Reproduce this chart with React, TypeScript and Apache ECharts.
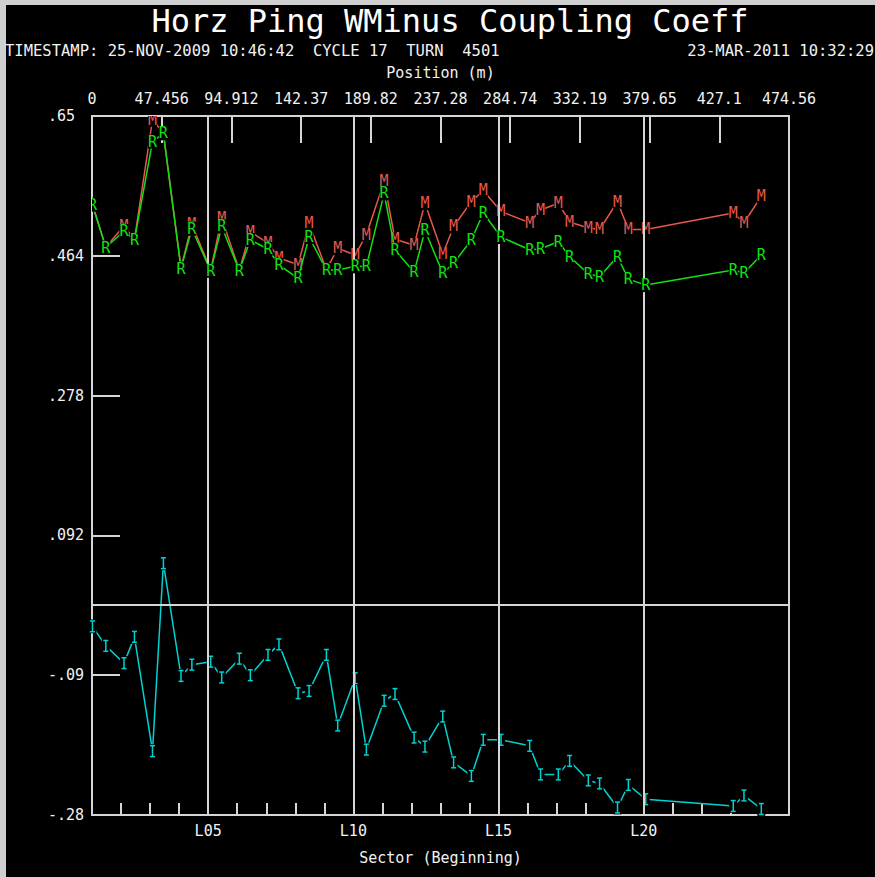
import React, { useEffect, useRef } from "react";
import * as echarts from "echarts";

// Ring geometry and axis labelling
const RING_LENGTH = 474.56;
const SECTOR_COUNT = 24;
const SECTOR_W = RING_LENGTH / SECTOR_COUNT;
const SECTOR_LABELS = ["L05", "L10", "L15", "L20"];
const SECTOR_LABEL_NUMBER = [5, 10, 15, 20];
const POSITION_TICK_LABELS = ["0", "47.456", "94.912", "142.37", "189.82", "237.28", "284.74", "332.19", "379.65", "427.1", "474.56"];
const Y_TICK_VALUES = [-0.28, -0.094, 0.092, 0.278, 0.464, 0.65];
const Y_TICK_LABELS = ["-.28", "-.09", ".092", ".278", ".464", ".65"];

// BPM positions along the ring (m)
const BPM_POSITION = [
  0.3, 9.4, 21.8, 28.9, 41.2, 48.6, 60.6, 68.0, 80.8, 88.3,
  100.3, 107.8, 119.8, 127.3, 140.3, 147.8, 159.6, 167.3, 179.2, 186.8,
  198.9, 206.3, 219.3, 226.7, 238.8, 246.2, 258.3, 266.4, 278.5, 298.0,
  305.4, 317.5, 325.2, 337.9, 345.6, 357.8, 365.2, 377.0, 436.6, 443.9,
  455.7,
];

// Measured coupling (M)
const COUPLING_M = [
  0.5325, 0.4755, 0.504, 0.4855, 0.645, 0.6275, 0.4479, 0.506, 0.4447, 0.514,
  0.4447, 0.496, 0.481, 0.461, 0.452, 0.507, 0.4455, 0.474, 0.465, 0.492,
  0.563, 0.486, 0.478, 0.534, 0.466, 0.503, 0.536, 0.551, 0.523, 0.508,
  0.525, 0.534, 0.509, 0.501, 0.499, 0.536, 0.499, 0.499, 0.521, 0.508,
  0.543,
];

// Reference coupling (R)
const COUPLING_R = [
  0.532, 0.475, 0.497, 0.485, 0.616, 0.627, 0.447, 0.500, 0.444, 0.503,
  0.444, 0.485, 0.473, 0.452, 0.434, 0.489, 0.445, 0.445, 0.450, 0.450,
  0.547, 0.472, 0.442, 0.498, 0.441, 0.454, 0.485, 0.521, 0.489, 0.472,
  0.473, 0.483, 0.463, 0.440, 0.436, 0.463, 0.433, 0.425, 0.445, 0.441,
  0.465,
];

// Difference with its error bar
const COUPLING_DIFF = [
  -0.029, -0.055, -0.078, -0.043, -0.195, 0.055, -0.095, -0.080, -0.076, -0.097,
  -0.072, -0.094, -0.067, -0.053, -0.118, -0.115, -0.067, -0.161, -0.098, -0.193,
  -0.128, -0.119, -0.177, -0.189, -0.149, -0.210, -0.228, -0.180, -0.180, -0.188,
  -0.226, -0.226, -0.208, -0.234, -0.238, -0.270, -0.240, -0.259, -0.268, -0.254,
  -0.272,
];
const DIFF_ERROR = 0.0072;

const RED = "#e8574c";
const GREEN = "#12e012";
const CYAN = "#00d2d2";
const FRAME = "#d6d6d6";
const TEXT = "#f2f2f2";
const MONO = '"DejaVu Sans Mono", "Liberation Mono", monospace';

const nearestIndex = (arr: number[], v: number) => {
  let best = 0;
  for (let i = 1; i < arr.length; i++) if (Math.abs(arr[i] - v) < Math.abs(arr[best] - v)) best = i;
  return best;
};

const pairs = (ys: number[]) => BPM_POSITION.map((x, i) => [x, ys[i]]);

// Letter marks with a black cell behind them; a mark that sits fully under
// the mark of the series drawn above it is left out.
const glyphSeries = (name: string, ys: number[], letter: string, color: string, z: number, above?: number[]) => ({
  type: "custom",
  name,
  z,
  clip: true,
  silent: true,
  encode: { x: 0, y: 1 },
  data: pairs(ys),
  renderItem: (params: any, api: any) => {
    const p = api.coord([api.value(0), api.value(1)]);
    if (above) {
      const q = api.coord([api.value(0), above[params.dataIndex]]);
      if (Math.abs(q[1] - p[1]) < 2) return null;
    }
    return {
      type: "group",
      children: [
        { type: "rect", shape: { x: p[0] - 4.5, y: p[1] - 7, width: 9, height: 14 }, style: { fill: "#000" } },
        {
          type: "text",
          x: p[0],
          y: p[1],
          style: { text: letter, fill: color, font: `15px ${MONO}`, align: "center", verticalAlign: "middle" },
        },
      ],
    };
  },
});

export default function App() {
  const ref = useRef<HTMLDivElement>(null);

  useEffect(() => {
    document.body.style.margin = "0";
    document.body.style.background = "#000";
    if (!ref.current) return;
    const chart = echarts.init(ref.current, undefined, { renderer: "svg" });

    const sectorTicks: number[] = [];
    for (let k = 1; k < SECTOR_COUNT; k++) sectorTicks.push(k * SECTOR_W);
    const sectorLabelValues = SECTOR_LABEL_NUMBER.map((n) => (n - 1) * SECTOR_W);
    const positionValues = POSITION_TICK_LABELS.map(Number);

    chart.setOption({
      animation: false,
      backgroundColor: "#000",
      grid: { left: 92, top: 116, width: 697, height: 699, containLabel: false },
      xAxis: [
        {
          type: "value",
          position: "bottom",
          min: 0,
          max: RING_LENGTH,
          axisLine: { show: true, onZero: false, lineStyle: { color: FRAME, width: 2 } },
          axisTick: { show: true, inside: true, length: 12, customValues: sectorTicks, lineStyle: { color: FRAME, width: 2 } },
          axisLabel: {
            show: true,
            customValues: sectorLabelValues,
            margin: 8,
            color: TEXT,
            fontFamily: MONO,
            fontSize: 15,
            formatter: (v: number) => SECTOR_LABELS[nearestIndex(sectorLabelValues, v)],
          },
          splitLine: { show: false },
        },
        {
          type: "value",
          position: "top",
          min: 0,
          max: RING_LENGTH,
          axisLine: { show: true, onZero: false, lineStyle: { color: FRAME, width: 2 } },
          axisTick: { show: true, inside: true, length: 27, customValues: positionValues, lineStyle: { color: FRAME, width: 2 } },
          axisLabel: {
            show: true,
            customValues: positionValues,
            margin: 10,
            color: TEXT,
            fontFamily: MONO,
            fontSize: 15,
            formatter: (v: number) => POSITION_TICK_LABELS[nearestIndex(positionValues, v)],
          },
          splitLine: { show: false },
        },
      ],
      yAxis: [
        {
          type: "value",
          position: "left",
          min: -0.28,
          max: 0.65,
          axisLine: { show: true, onZero: false, lineStyle: { color: FRAME, width: 2 } },
          axisTick: { show: true, inside: true, length: 28, customValues: Y_TICK_VALUES, lineStyle: { color: FRAME, width: 2 } },
          axisLabel: {
            show: true,
            customValues: Y_TICK_VALUES,
            margin: 44,
            align: "left",
            color: TEXT,
            fontFamily: MONO,
            fontSize: 15,
            formatter: (v: number) => Y_TICK_LABELS[nearestIndex(Y_TICK_VALUES, v)],
          },
          splitLine: { show: false },
        },
        {
          type: "value",
          position: "right",
          min: -0.28,
          max: 0.65,
          axisLine: { show: true, onZero: false, lineStyle: { color: FRAME, width: 2 } },
          axisTick: { show: false },
          axisLabel: { show: false },
          splitLine: { show: false },
        },
      ],
      series: [
        {
          type: "line",
          name: "grid",
          data: [],
          z: 1,
          silent: true,
          markLine: {
            silent: true,
            symbol: ["none", "none"],
            label: { show: false },
            lineStyle: { color: FRAME, width: 2, type: "solid" },
            emphasis: { disabled: true },
            data: [...sectorLabelValues.map((v) => ({ xAxis: v })), { yAxis: 0 }],
          },
        },
        {
          type: "line",
          name: "M",
          data: pairs(COUPLING_M),
          symbol: "none",
          z: 2,
          silent: true,
          lineStyle: { color: RED, width: 1.5 },
        },
        glyphSeries("M marks", COUPLING_M, "M", RED, 3, COUPLING_R),
        {
          type: "line",
          name: "R",
          data: pairs(COUPLING_R),
          symbol: "none",
          z: 4,
          silent: true,
          lineStyle: { color: GREEN, width: 1.5 },
        },
        glyphSeries("R marks", COUPLING_R, "R", GREEN, 5),
        {
          type: "line",
          name: "M-R",
          data: pairs(COUPLING_DIFF),
          symbol: "none",
          z: 2,
          silent: true,
          lineStyle: { color: CYAN, width: 1.5 },
        },
        {
          type: "custom",
          name: "M-R error",
          z: 3,
          silent: true,
          encode: { x: 0, y: 1 },
          data: pairs(COUPLING_DIFF),
          renderItem: (_params: any, api: any) => {
            const x = api.value(0);
            const y = api.value(1);
            const c = api.coord([x, y]);
            const top = api.coord([x, y + DIFF_ERROR]);
            const bot = api.coord([x, y - DIFF_ERROR]);
            const cap = 2.5;
            const st = { stroke: CYAN, lineWidth: 1.5 };
            return {
              type: "group",
              children: [
                { type: "rect", shape: { x: c[0] - 4, y: top[1] - 1.5, width: 8, height: bot[1] - top[1] + 3 }, style: { fill: "#000" } },
                { type: "line", shape: { x1: c[0], y1: top[1], x2: c[0], y2: bot[1] }, style: st },
                { type: "line", shape: { x1: c[0] - cap, y1: top[1], x2: c[0] + cap, y2: top[1] }, style: st },
                { type: "line", shape: { x1: c[0] - cap, y1: bot[1], x2: c[0] + cap, y2: bot[1] }, style: st },
              ],
            };
          },
        },
      ],
      graphic: [
        { type: "rect", left: 0, top: 0, shape: { width: 875, height: 5 }, style: { fill: "#cfcfcf" }, silent: true },
        { type: "rect", left: 0, top: 0, shape: { width: 6, height: 877 }, style: { fill: "#cfcfcf" }, silent: true },
        {
          type: "text", x: 450, y: 21,
          style: { text: "Horz Ping WMinus Coupling Coeff", fill: "#ffffff", font: `32px ${MONO}`, align: "center", verticalAlign: "middle" },
        },
        {
          type: "text", x: 5, y: 51,
          style: { text: "TIMESTAMP: 25-NOV-2009 10:46:42  CYCLE 17  TURN  4501", fill: TEXT, font: `15.5px ${MONO}`, align: "left", verticalAlign: "middle" },
        },
        {
          type: "text", x: 874, y: 51,
          style: { text: "23-MAR-2011 10:32:29", fill: TEXT, font: `15.5px ${MONO}`, align: "right", verticalAlign: "middle" },
        },
        {
          type: "text", x: 440.5, y: 73,
          style: { text: "Position (m)", fill: TEXT, font: `15px ${MONO}`, align: "center", verticalAlign: "middle" },
        },
        {
          type: "text", x: 440.5, y: 858,
          style: { text: "Sector (Beginning)", fill: TEXT, font: `15px ${MONO}`, align: "center", verticalAlign: "middle" },
        },
      ],
    });

    return () => chart.dispose();
  }, []);

  return <div ref={ref} style={{ width: 875, height: 877, background: "#000" }} />;
}
